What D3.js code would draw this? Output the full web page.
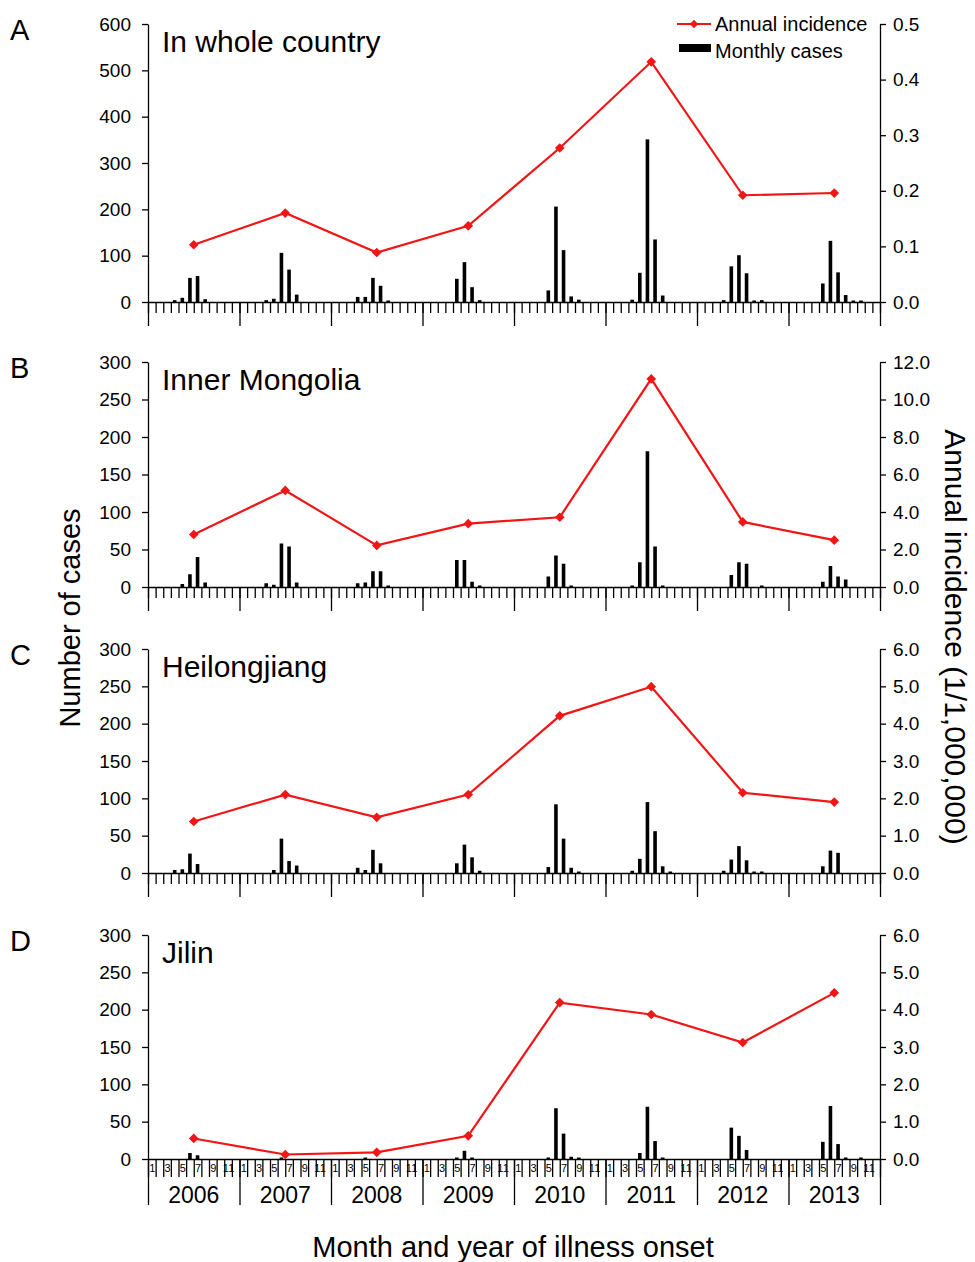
<!DOCTYPE html>
<html>
<head>
    <title>Monthly cases and annual incidence</title>
    <script src="https://cdnjs.cloudflare.com/ajax/libs/d3/7.8.5/d3.min.js" charset="utf-8"></script>
    <style>
        body { margin: 0; background: #fff; }
        text { font-family: "Liberation Sans", Arial, sans-serif; fill: #000; }
    </style>
</head>
<body>
    <div id="graph"></div>
<script>
    var width = 975;
    var height = 1262;

    var years = ["2006", "2007", "2008", "2009", "2010", "2011", "2012", "2013"];
    var monthLabels = ["1", "", "3", "", "5", "", "7", "", "9", "", "11", ""];

    // monthly cases, one row of Jan..Dec per year
    var casesA = [
        [0, 0, 0, 4, 9, 52, 56, 6, 0, 0, 0, 0],
        [0, 0, 0, 4, 7, 106, 70, 16, 0, 0, 0, 0],
        [0, 0, 0, 11, 11, 52, 35, 1, 0, 0, 0, 0],
        [0, 0, 0, 0, 50, 86, 32, 4, 0, 0, 0, 0],
        [0, 0, 0, 0, 25, 206, 112, 12, 5, 0, 0, 0],
        [0, 0, 0, 5, 63, 351, 135, 14, 0, 0, 0, 0],
        [0, 0, 0, 4, 77, 101, 62, 1, 4, 0, 0, 0],
        [0, 0, 0, 0, 40, 132, 64, 15, 1, 1, 0, 0]
    ];
    var casesB = [
        [0, 0, 0, 0, 4, 17, 40, 6, 0, 0, 0, 0],
        [0, 0, 0, 5, 3, 58, 54, 6, 0, 0, 0, 0],
        [0, 0, 0, 5, 6, 21, 21, 2, 0, 0, 0, 0],
        [0, 0, 0, 0, 36, 36, 7, 2, 0, 0, 0, 0],
        [0, 0, 0, 0, 14, 42, 31, 1, 0, 0, 0, 0],
        [0, 0, 0, 1, 33, 181, 54, 1, 0, 0, 0, 0],
        [0, 0, 0, 0, 16, 33, 31, 0, 1, 0, 0, 0],
        [0, 0, 0, 0, 7, 28, 14, 10, 0, 0, 0, 0]
    ];
    var casesC = [
        [0, 0, 0, 4, 5, 26, 12, 0, 0, 0, 0, 0],
        [0, 0, 0, 0, 4, 46, 16, 10, 0, 0, 0, 0],
        [0, 0, 0, 7, 4, 31, 13, 0, 0, 0, 0, 0],
        [0, 0, 0, 0, 13, 38, 21, 3, 0, 0, 0, 0],
        [0, 0, 0, 0, 8, 92, 46, 7, 2, 0, 0, 0],
        [0, 0, 0, 3, 19, 95, 56, 9, 1, 0, 0, 0],
        [0, 0, 0, 3, 18, 36, 17, 1, 1, 0, 0, 0],
        [0, 0, 0, 0, 9, 30, 27, 0, 0, 0, 0, 0]
    ];
    var casesD = [
        [0, 0, 0, 0, 0, 8, 5, 0, 0, 0, 0, 0],
        [0, 0, 0, 0, 0, 1, 0, 0, 0, 0, 0, 0],
        [0, 0, 0, 0, 1, 0, 0, 0, 0, 0, 0, 0],
        [0, 0, 0, 0, 1, 11, 2, 0, 0, 0, 0, 0],
        [0, 0, 0, 0, 1, 68, 34, 3, 2, 0, 0, 0],
        [0, 0, 0, 0, 8, 70, 24, 2, 0, 0, 0, 0],
        [0, 0, 0, 0, 42, 31, 12, 0, 0, 0, 0, 0],
        [0, 0, 0, 0, 23, 71, 20, 2, 0, 1, 0, 0]
    ];

    // annual incidence (1/1,000,000)
    var incidenceA = [0.103, 0.160, 0.089, 0.137, 0.277, 0.432, 0.192, 0.196];
    var incidenceB = [2.80, 5.15, 2.22, 3.38, 3.72, 11.10, 3.47, 2.50];
    var incidenceC = [1.38, 2.10, 1.49, 2.10, 4.21, 4.99, 2.15, 1.90];
    var incidenceD = [0.55, 0.12, 0.18, 0.62, 4.19, 3.87, 3.12, 4.45];

    var panels = [
        {letter: "A", title: "In whole country", cases: casesA, inc: incidenceA,
         top: 24, bottom: 302, leftMax: 600, leftStep: 100, rightMax: 0.5, rightStep: 0.1},
        {letter: "B", title: "Inner Mongolia", cases: casesB, inc: incidenceB,
         top: 362, bottom: 587, leftMax: 300, leftStep: 50, rightMax: 12, rightStep: 2},
        {letter: "C", title: "Heilongjiang", cases: casesC, inc: incidenceC,
         top: 649, bottom: 873, leftMax: 300, leftStep: 50, rightMax: 6, rightStep: 1},
        {letter: "D", title: "Jilin", cases: casesD, inc: incidenceD,
         top: 935, bottom: 1159, leftMax: 300, leftStep: 50, rightMax: 6, rightStep: 1}
    ];

    var red = "#f21515";
    var font = "'Liberation Sans', Arial, sans-serif";
    var x0 = 148, x1 = 880;
    var x = d3.scaleLinear().domain([0, 96]).range([x0, x1]);
    var barW = 3.6;

    var svg = d3.select("#graph").append("svg")
            .attr("width", width)
            .attr("height", height);

    panels.forEach(function (p, pi) {
        var last = pi == panels.length - 1;
        var g = svg.append("g");
        var yL = d3.scaleLinear().domain([0, p.leftMax]).range([p.bottom, p.top]);
        var yR = d3.scaleLinear().domain([0, p.rightMax]).range([p.bottom, p.top]);

        var months = [];
        p.cases.forEach(function (row, yi) {
            row.forEach(function (v, mi) {
                months.push({i: yi * 12 + mi, v: v});
            });
        });

        // bars
        g.selectAll("rect.bar")
            .data(months.filter(function (d) { return d.v > 0; }))
            .enter()
            .append("rect")
            .attr("class", "bar")
            .attr("x", function (d) { return x(d.i + 0.5) - barW / 2; })
            .attr("width", barW)
            .attr("y", function (d) { return Math.min(yL(d.v), p.bottom - 1.5); })
            .attr("height", function (d) { return Math.max(p.bottom - yL(d.v), 1.5); })
            .attr("fill", "#000");

        // left axis
        var la = g.append("g")
            .attr("transform", "translate(" + x0 + ",0)")
            .call(d3.axisLeft(yL)
                .tickValues(d3.range(0, p.leftMax + 1, p.leftStep))
                .tickSize(6).tickSizeOuter(0).tickPadding(11));
        la.attr("font-size", null).attr("font-family", null);
        la.selectAll("text").style("font-size", "19px").style("font-family", font);

        // right axis
        var ra = g.append("g")
            .attr("transform", "translate(" + x1 + ",0)")
            .call(d3.axisRight(yR)
                .tickValues(d3.range(0, p.rightMax + p.rightStep / 2, p.rightStep))
                .tickFormat(d3.format(".1f"))
                .tickSize(6).tickSizeOuter(0).tickPadding(7));
        ra.attr("font-size", null).attr("font-family", null);
        ra.selectAll("text").style("font-size", "19px").style("font-family", font);

        // x axis: month ticks and year ticks
        var minorLen = last ? 18 : 11;
        var yearLen = last ? 46 : 24;
        g.append("g")
            .attr("transform", "translate(0," + p.bottom + ")")
            .call(d3.axisBottom(x)
                .tickValues(d3.range(0, 97))
                .tickFormat("")
                .tickSize(minorLen).tickSizeOuter(0));
        g.append("g")
            .attr("transform", "translate(0," + p.bottom + ")")
            .call(d3.axisBottom(x)
                .tickValues(d3.range(0, 97, 12))
                .tickFormat("")
                .tickSize(yearLen).tickSizeOuter(0))
            .select(".domain").remove();

        g.selectAll(".domain").attr("stroke", "#000").attr("stroke-width", 1.3);
        g.selectAll(".tick line").attr("stroke", "#000").attr("stroke-width", 1.3);

        if (last) {
            var labelAxis = g.append("g")
                .attr("transform", "translate(0," + p.bottom + ")")
                .call(d3.axisBottom(x)
                    .tickValues(d3.range(0, 96).map(function (i) { return i + 0.5; }))
                    .tickFormat(function (d) { return monthLabels[Math.floor(d) % 12]; })
                    .tickSize(0).tickPadding(5).tickSizeOuter(0));
            labelAxis.select(".domain").remove();
            labelAxis.attr("font-size", null).attr("font-family", null);
            labelAxis.selectAll("text").style("font-size", "11px").style("font-family", font);

            g.selectAll("text.year")
                .data(years)
                .enter()
                .append("text")
                .attr("class", "year")
                .attr("x", function (d, i) { return x(i * 12 + 6); })
                .attr("y", p.bottom + 44)
                .attr("text-anchor", "middle")
                .style("font-size", "23px")
                .text(function (d) { return d; });
        }

        // incidence line
        var line = d3.line()
            .x(function (d, i) { return x(i * 12 + 6); })
            .y(function (d) { return yR(d); });
        g.append("path")
            .datum(p.inc)
            .attr("d", line)
            .attr("fill", "none")
            .attr("stroke", red)
            .attr("stroke-width", 2.2);
        g.selectAll("path.mk")
            .data(p.inc)
            .enter()
            .append("path")
            .attr("class", "mk")
            .attr("d", d3.symbol().type(d3.symbolDiamond2).size(60))
            .attr("transform", function (d, i) {
                return "translate(" + x(i * 12 + 6) + "," + yR(d) + ")";
            })
            .attr("fill", red);

        // panel letter and title
        g.append("text")
            .attr("x", 10)
            .attr("y", p.top + 16)
            .style("font-size", "29px")
            .text(p.letter);
        g.append("text")
            .attr("x", 162)
            .attr("y", p.top + 28)
            .style("font-size", "30px")
            .text(p.title);
    });

    // legend
    var lg = svg.append("g");
    lg.append("line")
        .attr("x1", 677).attr("x2", 711).attr("y1", 24).attr("y2", 24)
        .attr("stroke", red).attr("stroke-width", 2.2);
    lg.append("path")
        .attr("d", d3.symbol().type(d3.symbolDiamond2).size(45))
        .attr("transform", "translate(694,24)")
        .attr("fill", red);
    lg.append("text").attr("x", 715).attr("y", 31).style("font-size", "20px").text("Annual incidence");
    lg.append("rect")
        .attr("x", 679).attr("y", 44).attr("width", 32).attr("height", 8)
        .attr("fill", "#000");
    lg.append("text").attr("x", 715).attr("y", 58).style("font-size", "20px").text("Monthly cases");

    // axis titles
    svg.append("text")
        .attr("transform", "translate(80,618) rotate(-90)")
        .attr("text-anchor", "middle")
        .style("font-size", "29px")
        .text("Number of cases");
    svg.append("text")
        .attr("transform", "translate(945,637) rotate(90)")
        .attr("text-anchor", "middle")
        .style("font-size", "30px")
        .text("Annual incidence (1/1,000,000)");
    svg.append("text")
        .attr("x", 513)
        .attr("y", 1257)
        .attr("text-anchor", "middle")
        .style("font-size", "29px")
        .text("Month and year of illness onset");
</script>
</body>
</html>
